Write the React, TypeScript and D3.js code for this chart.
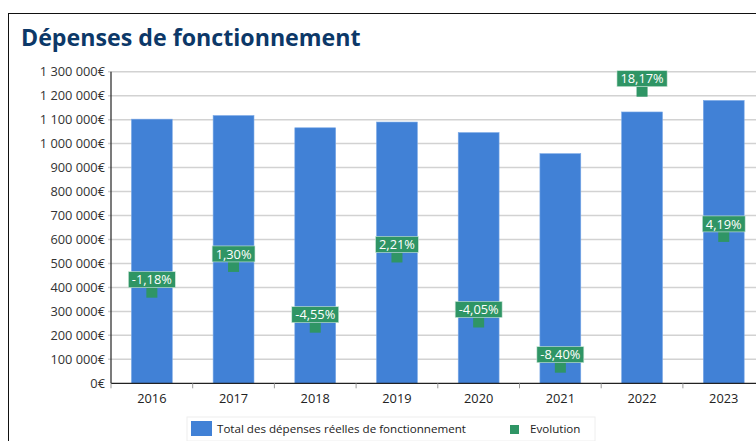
import React, { useEffect, useRef } from "react";
import * as d3 from "d3";

const years = ["2016", "2017", "2018", "2019", "2020", "2021", "2022", "2023"];
const totals = [1102000, 1117000, 1066000, 1090000, 1046000, 958000, 1132000, 1180000];
const evolution = [-1.18, 1.3, -4.55, 2.21, -4.05, -8.4, 18.17, 4.19];
const yTicks = [0, 100000, 200000, 300000, 400000, 500000, 600000, 700000, 800000, 900000, 1000000, 1100000, 1200000, 1300000];

const W = 756;
const H = 441;
const FONT = "'Open Sans', 'Noto Sans', sans-serif";

export default function App() {
  const ref = useRef<SVGSVGElement | null>(null);

  useEffect(() => {
    const svg = d3.select(ref.current);
    svg.selectAll("*").remove();

    const left = 111;
    const top = 71.7;
    const bottom = 383.3;
    const bandW = 81.7;
    const right = left + bandW * years.length;

    // frame
    svg.append("rect").attr("x", 8.5).attr("y", 13.5).attr("width", 800).attr("height", 500)
      .attr("fill", "#fff").attr("stroke", "#111").attr("stroke-width", 1);

    svg.append("text").attr("x", 21).attr("y", 46).text("Dépenses de fonctionnement")
      .attr("font-family", FONT).attr("font-weight", 700).attr("font-size", 23.2).attr("fill", "#0c3868");

    const x = d3.scaleBand<string>().domain(years).range([left, right]).paddingInner(0.5).paddingOuter(0.25);
    const y = d3.scaleLinear().domain([0, 1300000]).range([bottom, top]);
    const y2 = d3.scaleLinear().domain([-10, 20]).range([bottom, top]);

    // grid
    svg.append("g").selectAll("line").data(yTicks.filter((d) => d > 0)).join("line")
      .attr("x1", left - 3).attr("x2", W).attr("y1", (d) => y(d)).attr("y2", (d) => y(d))
      .attr("stroke", "#d2d2d2").attr("stroke-width", 1.5);

    const fmt = (v: number) => (v === 0 ? "0€" : d3.format(",")(v).replace(/,/g, " ") + "€");
    svg.append("g").selectAll("text").data(yTicks).join("text")
      .attr("x", 105).attr("y", (d) => y(d)).attr("dy", "0.35em").attr("text-anchor", "end")
      .attr("font-family", FONT).attr("font-size", 12.8).attr("fill", "#333").text(fmt);

    // bars
    svg.append("g").selectAll("rect").data(years).join("rect")
      .attr("x", (d) => x(d)!).attr("width", x.bandwidth())
      .attr("y", (d, i) => y(totals[i])).attr("height", (d, i) => bottom - y(totals[i]))
      .attr("fill", "#4181d6").attr("stroke", "#7aa8e6").attr("stroke-width", 0.6);

    // axes lines
    svg.append("line").attr("x1", left).attr("x2", left).attr("y1", top).attr("y2", bottom)
      .attr("stroke", "#222").attr("stroke-width", 1.2);
    svg.append("line").attr("x1", left).attr("x2", W).attr("y1", bottom).attr("y2", bottom)
      .attr("stroke", "#222").attr("stroke-width", 1.2);
    svg.append("g").selectAll("line").data(d3.range(years.length + 1)).join("line")
      .attr("x1", (i) => left + i * bandW).attr("x2", (i) => left + i * bandW)
      .attr("y1", bottom).attr("y2", bottom + 5).attr("stroke", "#999").attr("stroke-width", 1);
    svg.append("g").selectAll("text").data(years).join("text")
      .attr("x", (d) => x(d)! + x.bandwidth() / 2).attr("y", 402.5).attr("text-anchor", "middle")
      .attr("font-family", FONT).attr("font-size", 12.8).attr("fill", "#222").text((d) => d);

    // evolution markers + labels
    const g = svg.append("g");
    years.forEach((yr, i) => {
      const cx = x(yr)! + x.bandwidth() / 2;
      const cy = y2(evolution[i]) + 1;
      g.append("rect").attr("x", cx - 5.5).attr("y", cy - 5).attr("width", 11).attr("height", 10)
        .attr("fill", "#2f9565");
      const label = evolution[i].toFixed(2).replace(".", ",") + "%";
      const t = g.append("text").attr("x", cx).attr("y", cy - 5 - 7.8).attr("dy", "0.35em")
        .attr("text-anchor", "middle").attr("font-family", FONT).attr("font-size", 12.8)
        .attr("fill", "#fff").text(label);
      const bb = (t.node() as SVGTextElement).getBBox();
      g.insert("rect", () => t.node())
        .attr("x", cx - bb.width / 2 - 3.5).attr("y", cy - 5 - 16).attr("width", bb.width + 7).attr("height", 16)
        .attr("fill", "#2f9565").attr("stroke", "#cfe8da").attr("stroke-width", 0.6);
    });

    // legend
    const lg = svg.append("g");
    lg.append("rect").attr("x", 187).attr("y", 417).attr("width", 408).attr("height", 24)
      .attr("fill", "#fff").attr("stroke", "#eeeeee").attr("stroke-width", 1);
    lg.append("rect").attr("x", 191).attr("y", 421).attr("width", 21).attr("height", 15).attr("fill", "#4181d6");
    lg.append("text").attr("x", 217).attr("y", 429).attr("dy", "0.35em")
      .attr("font-family", FONT).attr("font-size", 11.6).attr("fill", "#222")
      .text("Total des dépenses réelles de fonctionnement");
    lg.append("rect").attr("x", 510).attr("y", 425).attr("width", 9).attr("height", 9).attr("fill", "#2f9565");
    lg.append("text").attr("x", 530).attr("y", 429).attr("dy", "0.35em")
      .attr("font-family", FONT).attr("font-size", 11.6).attr("fill", "#222").text("Evolution");
  }, []);

  return (
    <svg ref={ref} width={W} height={H}
      style={{ position: "fixed", left: 0, top: 0, background: "#fff", display: "block" }} />
  );
}
